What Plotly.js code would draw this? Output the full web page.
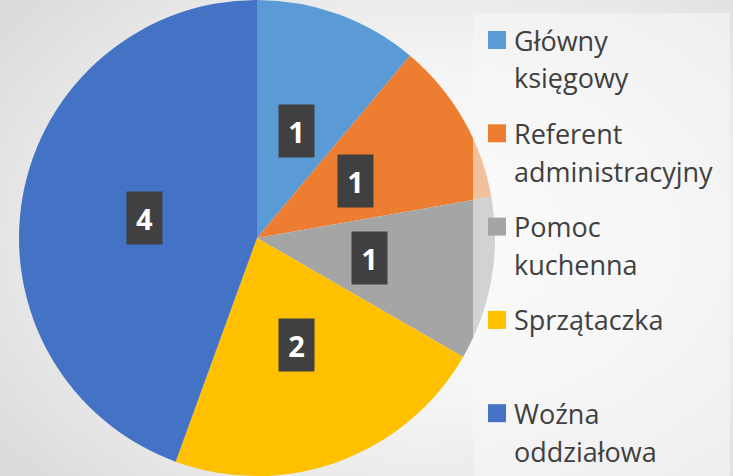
<!DOCTYPE html>
<html>
<head>
<meta charset="utf-8">
<script src="https://cdn.plot.ly/plotly-3.0.1.min.js"></script>
<style>
  html, body { margin: 0; padding: 0; }
  #chart {
    width: 733px; height: 476px;
    background: radial-gradient(ellipse 70% 75% at 58% 50%, #ffffff 0%, #f5f5f5 45%, #e6e6e6 80%, #dcdcdc 100%);
  }
</style>
</head>
<body>
<div id="chart"></div>
<script>
// ---- data ----
const labels = ["Główny księgowy", "Referent administracyjny", "Pomoc kuchenna", "Sprzątaczka", "Woźna oddziałowa"];
const legendLines = [["Główny", "księgowy"], ["Referent", "administracyjny"], ["Pomoc", "kuchenna"], ["Sprzątaczka"], ["Woźna", "oddziałowa"]];
const values = [1, 1, 1, 2, 4];
const colors = ["#5B9BD5", "#ED7D31", "#A5A5A5", "#FFC000", "#4472C4"];

// ---- geometry (layout) ----
const W = 733, H = 476;
const domX = [19 / W, 495 / W];
const domY = [0, 1];
const cx = (domX[0] + domX[1]) / 2 * W;
const cy = H - (domY[0] + domY[1]) / 2 * H;
const R = Math.min((domX[1] - domX[0]) * W, (domY[1] - domY[0]) * H) / 2;
const px = x => x / W;
const py = y => 1 - y / H;

const total = values.reduce((a, b) => a + b, 0);
const annotations = [];
const shapes = [];

// legend box (semi-transparent, over the pie edge)
shapes.push({type: "rect", xref: "paper", yref: "paper", layer: "above",
  x0: px(473), x1: px(730), y0: py(476), y1: py(13),
  fillcolor: "rgba(248,248,248,0.55)", line: {width: 0}});

// data labels at slice mid-angles
let cum = 0;
values.forEach((v, i) => {
  const mid = (cum + v / 2) / total * 2 * Math.PI;
  cum += v;
  const r = 0.48 * R;
  annotations.push({
    xref: "paper", yref: "paper",
    x: px(cx + r * Math.sin(mid)), y: py(cy - r * Math.cos(mid)),
    xanchor: "center", yanchor: "middle",
    text: "<b>" + v + "</b>", showarrow: false,
    font: {family: "Open Sans, sans-serif", size: 29, color: "#ffffff"},
    bgcolor: "#404040", width: 35, height: 52, borderpad: 0
  });
});

// legend entries
const step = 93.3, firstY = 40, lineGap = 38;
legendLines.forEach((lines, i) => {
  const yc = firstY + i * step;
  shapes.push({type: "rect", xref: "paper", yref: "paper", layer: "above",
    x0: px(488), x1: px(506), y0: py(yc + 9), y1: py(yc - 9),
    fillcolor: colors[i], line: {width: 0}});
  lines.forEach((t, k) => {
    annotations.push({
      xref: "paper", yref: "paper", x: px(512), y: py(yc + k * lineGap),
      xanchor: "left", yanchor: "middle", showarrow: false, text: t,
      font: {family: "Open Sans, sans-serif", size: 27, color: "#404040"}
    });
  });
});

const trace = {
  type: "pie", labels: labels, values: values, sort: false,
  direction: "clockwise", rotation: 0,
  marker: {colors: colors, line: {width: 0}},
  textinfo: "none", domain: {x: domX, y: domY}, showlegend: false
};

Plotly.newPlot("chart", [trace], {
  width: W, height: H, margin: {l: 0, r: 0, t: 0, b: 0},
  paper_bgcolor: "rgba(0,0,0,0)", plot_bgcolor: "rgba(0,0,0,0)",
  showlegend: false, annotations: annotations, shapes: shapes
}, {displayModeBar: false, staticPlot: true});
</script>
</body>
</html>
